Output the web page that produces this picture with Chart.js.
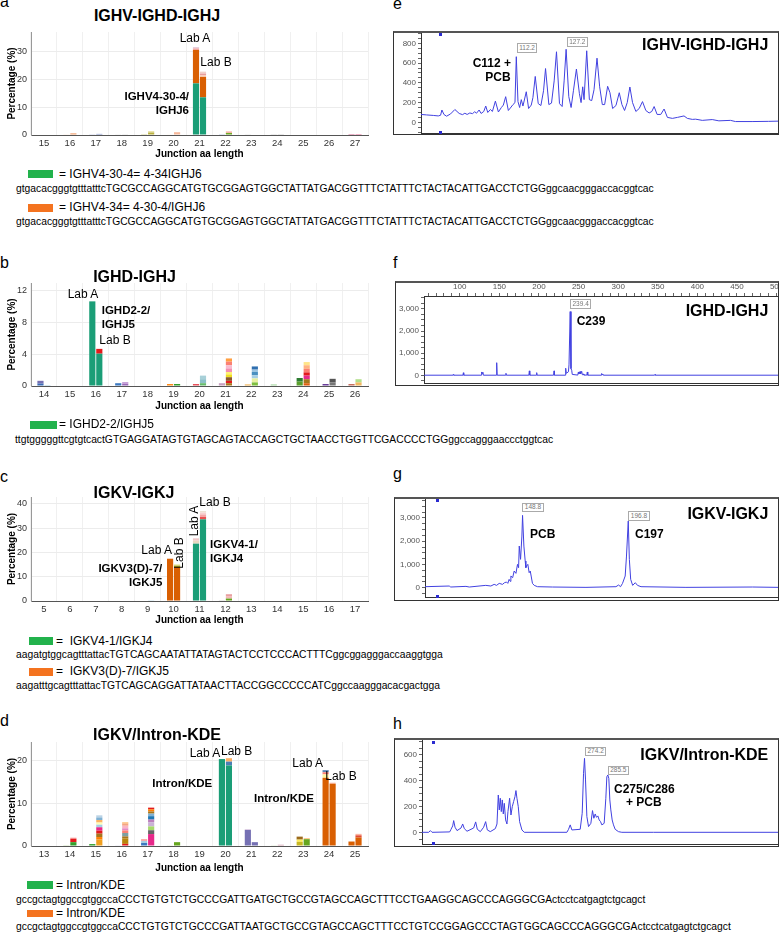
<!DOCTYPE html>
<html>
<head>
<meta charset="utf-8">
<script src="https://cdn.jsdelivr.net/npm/chart.js@4.4.1/dist/chart.umd.min.js"></script>
<style>
body{margin:0;width:780px;height:933px;position:relative;overflow:hidden;background:#fff;font-family:"Liberation Sans",Arial,Helvetica,sans-serif;color:#000}
.t{position:absolute;white-space:pre;line-height:1.2}
.lt{font-size:16px;line-height:16px}
.tl{font-size:16px;font-weight:bold}
.lab{font-size:12px}
.an{font-size:11.5px;font-weight:bold}
.rn{font-size:12px;font-weight:bold}
.lg{font-size:12px}
.sq{font-size:10.3px}
.pk{position:absolute;font-size:6.5px;line-height:6.5px;padding:0.5px 1.5px;border:1px solid #aaa;color:#777;background:#fff}
.sw{position:absolute}
.box{position:absolute;box-sizing:border-box;border:1px solid #333;border-top:2px solid #555}
.box canvas{position:absolute;left:0;top:0}
.mk{position:absolute;width:3px;height:3px;background:#2b2bd0}
canvas.c{position:absolute}
</style>
</head>
<body>

<canvas id="chA" class="c" width="372" height="132" style="left:0;top:28px"></canvas>
<canvas id="chB" class="c" width="372" height="133" style="left:0;top:279px"></canvas>
<canvas id="chC" class="c" width="372" height="133" style="left:0;top:493px"></canvas>
<canvas id="chD" class="c" width="372" height="136" style="left:0;top:738px"></canvas>

<div class="box" style="left:393px;top:31px;width:386px;height:104px"><canvas id="chE" width="384" height="101"></canvas></div>
<div class="box" style="left:395px;top:281px;width:384px;height:105px"><canvas id="chF" width="382" height="102"></canvas></div>
<div class="box" style="left:394px;top:497px;width:385px;height:104px"><canvas id="chG" width="383" height="101"></canvas></div>
<div class="box" style="left:394px;top:738px;width:385px;height:109px"><canvas id="chH" width="383" height="106"></canvas></div>

<script>
// ---------- junction length histograms (percentage of reads), Lab A / Lab B ----------
const G = '#1b9e77', O = '#d95f02';

const aCats = ['15','16','17','18','19','20','21','22','23','24','25','26','27'];
const aLabA = [[], [0.15], [0.1], [0.15], [0.3], [0.2], [18.5, 12.0, 0.5, 0.4], [0.25], [0.1], [0.1], [], [], [0.3]];
const aLabB = [[], [0.6], [0.4], [0.15], [0.9, 0.5], [1.0], [13.5, 7.3, 0.6, 0.6, 0.7], [0.7, 0.6], [], [0.25], [], [], [0.3]];

const bCats = ['14','15','16','17','18','19','20','21','22','23','24','25','26'];
const bLabA = [[0.3, 0.35], [], [10.6], [0.35], [], [0.25], [0.25], [0.35], [0.2], [0.2], [0.55, 0.45], [0.25], [0.25]];
const bLabB = [[0.12], [], [4.05, 0.6], [0.25, 0.25], [], [0.25], [0.35, 0.5, 0.45],
  [0.35, 0.3, 0.45, 0.35, 0.3, 0.45, 0.4, 0.45, 0.4], [0.45, 0.5, 0.4, 0.4, 0.3, 0.4], [],
  [0.35, 0.5, 0.45, 0.4, 0.45, 0.45, 0.4], [0.45, 0.45], [0.45, 0.4]];

const cCats = ['5','6','7','8','9','10','11','12','13','14','15','16','17'];
const cLabA = [[], [], [], [], [0.2], [17.4], [23.6, 1.2, 1.0], [0.1], [], [], [], [], []];
const cLabB = [[], [], [], [], [0.1], [14.0, 0.6, 0.5], [33.6, 1.0, 1.0, 0.8, 0.6], [1.0, 1.0, 0.8], [], [], [], [], []];

const dCats = ['13','14','15','16','17','18','19','20','21','22','23','24','25'];
const dLabA = [[], [0.15], [0.45], [0.1], [0.7, 0.5, 0.4], [0.1], [], [20.4], [3.75, 0.15], [0.1],
  [1.0, 0.5, 0.7], [16.0, 0.8, 0.5, 0.5], [1.05]];
const dLabB = [[], [0.9, 0.8, 0.25], [1.5, 0.6, 0.8, 0.7, 0.8, 0.6, 0.5, 0.6, 0.6, 0.5],
  [0.5, 1.3, 0.45, 0.8, 0.6, 0.5, 0.6, 0.5, 0.3], [2.8, 0.9, 0.9, 1.0, 0.6, 0.8, 0.6, 0.5, 0.5, 0.4],
  [0.9], [0.12], [18.9, 0.9, 0.8], [0.9], [0.3], [1.6, 0.2], [14.6, 0.25], [2.0, 0.5, 0.35]];

// segment colours (same shape as the value lists)
const aColA = [[], ['#f4b183'], ['#9fa8da'], ['#999'], ['#c5c56a'], ['#f8c0a8'], [G, O, '#f4a6a6', '#d9b5c9'], ['#6a8ac0'], ['#ccc'], ['#aaa'], [], [], ['#c2185b']];
const aColB = [[], ['#f0a070'], ['#7b8cc4'], ['#666'], ['#b8b040', '#e8e0a0'], ['#f6b89a'], [G, O, '#f8c9b0', '#e89c9c', '#f2d0c8'], ['#66a61e', '#f4b6a6'], [], ['#888'], [], [], ['#d81b60']];
const bColA = [['#3b6cb5', '#7570b3'], [], [G], ['#3b78c0'], [], ['#ff8c1a'], ['#e8505b'], ['#c9a0c0'], ['#f0b050'], ['#a6d8a0'], ['#5aa02c', '#2e7d32'], ['#6a3d9a'], ['#c87060']];
const bColB = [['#a6cee3'], [], [G, '#e31a1c'], ['#9a6bb8', '#c8a2d8'], [], ['#33a02c'], ['#66bb6a', '#8cc0c8', '#a8d0d8'],
  ['#a6761d', '#e31a1c', '#8b5a2b', '#f0e020', '#fff176', '#f48fb1', '#f8bbd0', '#fb8072', '#ff9f40'],
  ['#7fbf3f', '#e8f0a0', '#a6cee3', '#4a90c0', '#9ec5e0', '#3070b0'], [],
  ['#e06010', '#a6761d', '#e7298a', '#e31a1c', '#fb8072', '#ffb380', '#ffe58a'], ['#777', '#555'], ['#f0b860', '#b2df8a']];
const cColA = [[], [], [], [], ['#7570b3'], [O], [G, '#e8d8c0', '#f0c8c8'], ['#bbb'], [], [], [], [], []];
const cColB = [[], [], [], [], ['#a6cee3'], [O, '#a6a61e', '#e6e6a0'], [G, '#e85050', '#f4a6a6', '#f8d0d0', '#ece0d0'], ['#66a61e', '#f4b6b6', '#e8a0a0'], [], [], [], [], []];
const dColA = [[], ['#66a61e'], ['#33a02c'], ['#7570b3'], ['#3b78c0', '#a6cee3', '#fb9a99'], ['#66a61e'], [], [G], ['#7570b3', '#cab2d6'], ['#66a61e'],
  ['#c8b820', '#ffee58', '#9c6b1d'], [O, '#fff59d', '#fb8072', '#5b84b1'], [O]];
const dColB = [[], ['#33a02c', '#e31a1c', '#fb9a99'],
  ['#f0a020', '#ff7f00', '#a6761d', '#e31a1c', '#e7298a', '#a6cee3', '#ffffb3', '#fdb462', '#80b1d3', '#bcd4e6'],
  ['#e31a1c', '#b8860b', '#a6761d', '#7fa0a0', '#fb8072', '#e78ac3', '#fbb4c4', '#f4a582', '#fdb462'],
  ['#e7298a', '#666666', '#a6d96a', '#cab2d6', '#bc80bd', '#1f78b4', '#80b1d3', '#a6761d', '#ff7f00', '#e31a1c'],
  ['#66a61e'], ['#e31a1c'], [G, '#4a7fb5', '#fdae61'], ['#7570b3'], ['#d4a0b0'], ['#66a61e', '#fdb462'], [O, '#fbb4a0'], [O, '#e34a33', '#fbb4a0']];

// ---------- GeneScan traces: [fragment size (bp), signal] ----------
const eTrace = [[83.5,80],[85.2,75],[87.2,70],[88.7,65],[89.4,72],[89.8,125],[90.4,80],[91.2,62],[92.4,85],[93.7,130],
  [95.0,90],[96.0,78],[96.7,92],[97.4,80],[98.2,95],[99.0,88],[99.7,108],[100.2,92],[101.0,125],[101.6,90],
  [102.4,110],[103.0,165],[103.6,100],[104.4,130],[105.0,110],[105.9,215],[106.8,105],[107.7,150],[108.3,175],[109.0,260],
  [109.8,120],[110.4,145],[111.2,180],[111.8,200],[112.2,665],[112.7,210],[113.2,150],[113.7,230],[114.2,165],[115.2,310],
  [115.9,140],[116.7,175],[117.2,250],[117.9,465],[118.8,190],[119.6,170],[120.4,320],[121.0,545],[122.0,180],[122.8,195],
  [123.6,420],[124.3,715],[125.2,190],[126.0,160],[126.6,420],[127.2,740],[128.0,260],[128.7,150],[129.4,320],[130.3,540],
  [131.2,290],[131.7,200],[132.2,360],[132.6,230],[133.4,725],[134.2,230],[134.9,220],[135.6,330],[136.5,650],[137.3,360],
  [138.1,180],[138.8,180],[139.7,365],[140.4,300],[141.2,140],[142.2,170],[143.2,300],[144.0,180],[144.8,120],[145.6,200],
  [146.4,358],[147.2,200],[148.2,110],[149.2,140],[150.2,210],[151.2,120],[152.2,95],[153.0,110],[153.7,160],[154.6,80],
  [155.7,80],[156.7,135],[157.7,50],[159.2,40],[160.7,50],[162.7,65],[163.7,40],[165.2,30],[166.2,32],[168.2,20],
  [171.2,28],[173.2,15],[176.7,20],[178.2,8],[183.2,8],[188.2,10],[191,12]];

const fTrace = [[55,5],[91.3,5],[91.8,35],[92.3,5],[104,5],[104.5,115],[105,5],[127,5],[127.6,150],[128.4,70],
  [129.1,140],[129.8,5],[146,5],[146.6,570],[147.2,5],[157.8,5],[158.3,90],[158.8,5],[187.2,5],[187.8,200],
  [188.4,5],[196.6,5],[197.1,120],[197.6,5],[218.4,5],[219,200],[219.6,5],[233,5],[233.7,320],[234.5,90],
  [237.2,160],[237.9,470],[239.4,2880],[240.4,300],[241.3,230],[242,40],[249,10],[249.7,150],[250.5,60],[251.8,170],
  [252.6,60],[253.9,180],[254.8,20],[256,60],[256.7,10],[260.4,10],[261,150],[261.6,5],[278.6,5],[279.1,80],
  [279.8,30],[280.5,60],[281.2,5],[346,5],[346.5,35],[347,5],[503,5]];

const gTrace = [[104.5,43],[115.5,72],[116.2,29],[123.1,57],[124.6,29],[132.1,100],[134.4,72],[135.9,143],[137.0,100],[138.2,186],
  [139.7,143],[140.6,215],[141.5,244],[142.1,186],[142.7,358],[143.2,272],[143.5,502],[144.3,430],[145.0,717],[145.8,616],
  [146.5,1003],[147.0,860],[147.3,1791],[147.9,1218],[148.5,2221],[148.8,3110],[149.4,1791],[150.0,1146],[150.3,860],[150.6,931],
  [151.2,1003],[151.8,645],[152.3,717],[152.7,502],[153.3,186],[154.1,100],[155.6,43],[162.4,29],[177.6,14],[191.2,43],
  [192.4,115],[193.3,43],[194.2,186],[195.4,502],[196.0,1361],[196.8,2866],[197.3,1218],[197.9,358],[198.8,100],[200.0,215],
  [201.0,100],[202.6,43],[223.0,14],[253.3,29],[264.8,14]];

const hTrace = [[195.4,5],[198.65,5],[199.46,18],[200.27,5],[208.82,8],[209.47,28],[210.28,54],[210.76,95],[211.41,44],[212.38,18],
  [214.31,38],[215.12,69],[215.93,33],[217.22,13],[220.45,38],[221.42,85],[222.22,28],[223.68,10],[225.29,44],[226.26,87],
  [227.07,23],[228.52,10],[230.94,33],[231.75,69],[232.39,292],[232.88,177],[233.36,267],[233.84,164],[234.33,254],[234.81,146],
  [235.30,228],[235.94,100],[236.59,69],[237.07,164],[237.88,267],[238.53,138],[239.17,202],[239.82,241],[240.46,279],[240.95,326],
  [241.43,267],[242.08,202],[242.72,87],[243.85,23],[244.98,5],[265.64,5],[266.45,28],[267.26,62],[268.07,23],[272.1,28],
  [273.07,151],[273.72,459],[274.2,574],[274.68,408],[275.33,126],[276.14,49],[277.27,74],[278.07,172],[278.72,113],[279.37,146],
  [280.01,120],[280.66,131],[281.30,100],[281.95,87],[282.59,62],[283.72,74],[284.53,267],[285.02,433],[285.5,446],[285.98,420],
  [286.47,254],[286.95,177],[287.6,100],[288.24,62],[289.05,28],[290.66,10],[292.28,5],[307.6,5],[368.5,5]];

Chart.defaults.font.family = '"Liberation Sans", Arial, Helvetica, sans-serif';
Chart.defaults.color = '#333';

function fitTo(w, h) {
  return function (s) {
    if (w !== null) s.width = w;
    if (h !== null) s.height = h;
    s.paddingLeft = 0; s.paddingRight = 0; s.paddingTop = 0; s.paddingBottom = 0;
  };
}

// ticks at plain multiples of the step, whatever the axis limits are
function stepTicks(step) {
  return function (s) {
    const t = [];
    for (let v = Math.ceil(s.min / step) * step; v <= s.max + 1e-9; v += step) {
      t.push({ value: Math.round(v * 1000) / 1000 });
    }
    s.ticks = t;
  };
}

function layers(vals, cols, stack) {
  const n = Math.max(...vals.map(v => v.length));
  const out = [];
  for (let k = 0; k < n; k++) {
    out.push({
      data: vals.map(v => (v[k] === undefined ? null : v[k])),
      backgroundColor: cols.map(c => c[k] || 'rgba(0,0,0,0)'),
      stack: stack,
      borderWidth: 0,
      categoryPercentage: 0.54,
      barPercentage: 0.88
    });
  }
  return out;
}

function barChart(id, cats, labA, labB, colA, colB, yMax, step, xh) {
  new Chart(document.getElementById(id), {
    type: 'bar',
    data: { labels: cats, datasets: layers(labA, colA, 'A').concat(layers(labB, colB, 'B')) },
    options: {
      responsive: false, animation: false,
      layout: { padding: { top: 4, right: 4, left: 0, bottom: 0 } },
      plugins: { legend: { display: false }, tooltip: { enabled: false } },
      scales: {
        x: {
          stacked: true,
          grid: { color: '#f0f0f0', drawTicks: false },
          border: { color: '#555' },
          ticks: { font: { size: 9.5 }, color: '#333', padding: 3, autoSkip: false, maxRotation: 0 },
          title: { display: true, text: 'Junction aa length', color: '#000', font: { size: 10, weight: 'bold' }, padding: { top: 0, bottom: 0 } },
          afterFit: fitTo(null, xh)
        },
        y: {
          stacked: true, min: 0, max: yMax,
          grid: { color: '#ececec', drawTicks: false },
          border: { color: '#999' },
          ticks: { font: { size: 9 }, color: '#333', padding: 4, autoSkip: false },
          afterBuildTicks: stepTicks(step),
          title: { display: true, text: 'Percentage (%)', color: '#000', font: { size: 10, weight: 'bold' }, padding: { top: 6, bottom: 0 } },
          afterFit: fitTo(31, null)
        }
      }
    }
  });
}

barChart('chA', aCats, aLabA, aLabB, aColA, aColB, 36.9, 10, 25);
barChart('chB', bCats, bLabA, bLabB, bColA, bColB, 12.9, 4, 26);
barChart('chC', cCats, cLabA, cLabB, cColA, cColB, 42.8, 10, 25);
barChart('chD', dCats, dLabA, dLabB, dColA, dColB, 24.4, 10, 28);

function traceChart(id, pts, xr, yr, yStep, yMajor, yw, padBottom, topAxis) {
  const scales = {
    x: {
      type: 'linear', min: xr[0], max: xr[1],
      ticks: { display: false },
      grid: { drawOnChartArea: false, drawTicks: false },
      border: { color: '#333' },
      afterFit: fitTo(null, 0)
    },
    y: {
      min: yr[0], max: yr[1],
      ticks: {
        autoSkip: false, font: { size: 8 }, color: '#555', padding: 2,
        callback: v => (v >= 0 && v % yMajor === 0 ? v.toLocaleString('en-US') : '')
      },
      afterBuildTicks: stepTicks(yStep),
      grid: { drawOnChartArea: false, tickLength: 3, tickColor: '#666' },
      border: { color: '#333' },
      afterFit: fitTo(yw, null)
    }
  };
  if (topAxis) {
    scales.xt = {
      type: 'linear', position: 'top', min: xr[0], max: xr[1],
      ticks: {
        autoSkip: false, maxRotation: 0, font: { size: 8 }, color: '#555', padding: 1,
        callback: v => (v % 50 === 0 ? String(v) : '')
      },
      afterBuildTicks: stepTicks(10),
      grid: { drawOnChartArea: false, tickLength: 3, tickColor: '#666' },
      border: { color: '#333' },
      afterFit: fitTo(null, 13)
    };
  }
  new Chart(document.getElementById(id), {
    type: 'line',
    data: { datasets: [{ data: pts.map(p => ({ x: p[0], y: p[1] })), borderColor: '#4141e0', borderWidth: 1, pointRadius: 0, tension: 0 }] },
    options: {
      responsive: false, animation: false,
      layout: { padding: { top: 0, right: 0, left: 0, bottom: padBottom } },
      plugins: { legend: { display: false }, tooltip: { enabled: false } },
      scales: scales
    }
  });
}

traceChart('chE', eTrace, [83.5, 191], [-108, 905], 50, 200, 27, 1, false);
traceChart('chF', fTrace, [54.8, 501.8], [-348, 3584], 250, 1000, 28, 2, true);
traceChart('chG', gTrace, [104.5, 264.8], [-400, 3814], 250, 1000, 30, 3, false);
traceChart('chH', hTrace, [195.4, 368], [-85, 715], 50, 200, 27, 2, false);

// ---------- text ----------
const seqA = 'gtgacacgggtgtttatttcTGCGCCAGGCATGTGCGGAGTGGCTATTATGACGGTTTCTATTTCTACTACATTGACCTCTGGggcaacgggaccacggtcac';
const seqB = 'ttgtgggggttcgtgtcactGTGAGGATAGTGTAGCAGTACCAGCTGCTAACCTGGTTCGACCCCTGGggccagggaaccctggtcac';
const seqC1 = 'aagatgtggcagtttattacTGTCAGCAATATTATAGTACTCCTCCCACTTTCggcggagggaccaaggtgga';
const seqC2 = 'aagatttgcagtttattacTGTCAGCAGGATTATAACTTACCGGCCCCCATCggccaagggacacgactgga';
const seqD1 = 'gccgctagtggccgtggccaCCCTGTGTCTGCCCGATTGATGCTGCCGTAGCCAGCTTTCCTGAAGGCAGCCCAGGGCGActcctcatgagtctgcagct';
const seqD2 = 'gccgctagtggccgtggccaCCCTGTGTCTGCCCGATTAATGCTGCCGTAGCCAGCTTTCCTGTCCGGAGCCCTAGTGGCAGCCCAGGGCGActcctcatgagtctgcagct';

const letters = [['a', 0, -6], ['e', 393, -4.5], ['b', 0, 254.8], ['f', 393, 254.8], ['c', 0, 469.2], ['g', 393, 465.5], ['d', 0, 713.2], ['h', 393, 715.5]];
letters.forEach(l => {
  const d = document.createElement('div');
  d.className = 't lt'; d.textContent = l[0];
  d.style.left = l[1] + 'px'; d.style.top = l[2] + 'px';
  document.body.appendChild(d);
});

const sizes = { tl: 16, lab: 12, an: 11.5, rn: 12, lg: 12, sq: 10.3 };
const texts = [
  [157, 15.7, 'IGHV-IGHD-IGHJ', 'tl', 'c'],
  [195, 38, 'Lab A', 'lab', 'c'],
  [216, 62, 'Lab B', 'lab', 'c'],
  [189, 97, 'IGHV4-30-4/', 'an', 'r'],
  [189, 110.5, 'IGHJ6', 'an', 'r'],
  [59, 174, '= IGHV4-30-4= 4-34IGHJ6', 'lg', 'l'],
  [16, 188.7, seqA, 'sq', 'l'],
  [59, 207.5, '= IGHV4-34= 4-30-4/IGHJ6', 'lg', 'l'],
  [16, 222, seqA, 'sq', 'l'],

  [134.5, 276.7, 'IGHD-IGHJ', 'tl', 'c'],
  [83, 294.3, 'Lab A', 'lab', 'c'],
  [101.7, 311, 'IGHD2-2/', 'an', 'l'],
  [101.7, 325, 'IGHJ5', 'an', 'l'],
  [99.3, 340, 'Lab B', 'lab', 'l'],
  [59, 424.5, '= IGHD2-2/IGHJ5', 'lg', 'l'],
  [15, 440, seqB, 'sq', 'l'],

  [134, 492.7, 'IGKV-IGKJ', 'tl', 'c'],
  [156.7, 550, 'Lab A', 'lab', 'c'],
  [179, 553, 'Lab B', 'lab', 'v'],
  [194.3, 521, 'Lab A', 'lab', 'v'],
  [215, 501.7, 'Lab B', 'lab', 'c'],
  [210, 545, 'IGKV4-1/', 'an', 'l'],
  [210, 559.3, 'IGKJ4', 'an', 'l'],
  [162.3, 569.3, 'IGKV3(D)-7/', 'an', 'r'],
  [162.3, 582.7, 'IGKJ5', 'an', 'r'],
  [56, 641, '=  IGKV4-1/IGKJ4', 'lg', 'l'],
  [16, 655, seqC1, 'sq', 'l'],
  [56, 671.5, '=  IGKV3(D)-7/IGKJ5', 'lg', 'l'],
  [16, 686, seqC2, 'sq', 'l'],

  [157, 735, 'IGKV/Intron-KDE', 'tl', 'c'],
  [205, 752.7, 'Lab A', 'lab', 'c'],
  [236.7, 750.7, 'Lab B', 'lab', 'c'],
  [212.3, 784, 'Intron/KDE', 'an', 'r'],
  [307.7, 762.7, 'Lab A', 'lab', 'c'],
  [341, 776, 'Lab B', 'lab', 'c'],
  [314, 799.3, 'Intron/KDE', 'an', 'r'],
  [56, 885, '= Intron/KDE', 'lg', 'l'],
  [16, 900, seqD1, 'sq', 'l'],
  [56, 913.5, '= Intron/KDE', 'lg', 'l'],
  [16, 927.5, seqD2, 'sq', 'l'],

  [768.3, 45, 'IGHV-IGHD-IGHJ', 'tl', 'r'],
  [511, 63.3, 'C112 +', 'rn', 'r'],
  [510.7, 77.3, 'PCB', 'rn', 'r'],
  [768.3, 310.7, 'IGHD-IGHJ', 'tl', 'r'],
  [576.7, 320.7, 'C239', 'rn', 'l'],
  [768.3, 513.3, 'IGKV-IGKJ', 'tl', 'r'],
  [530, 534.3, 'PCB', 'rn', 'l'],
  [635, 534.3, 'C197', 'rn', 'l'],
  [768.3, 755, 'IGKV/Intron-KDE', 'tl', 'r'],
  [614, 789.3, 'C275/C286', 'rn', 'l'],
  [626, 801.7, '+ PCB', 'rn', 'l']
];
texts.forEach(t => {
  const d = document.createElement('div');
  d.className = 't ' + t[3];
  d.textContent = t[2];
  const fs = sizes[t[3]];
  d.style.left = t[0] + 'px';
  if (t[4] === 'v') {
    d.style.top = t[1] + 'px';
    d.style.transform = 'translate(-50%,-50%) rotate(-90deg)';
  } else {
    d.style.top = (t[1] - 0.6 * fs) + 'px';
    if (t[4] === 'c') d.style.transform = 'translateX(-50%)';
    if (t[4] === 'r') d.style.transform = 'translateX(-100%)';
  }
  document.body.appendChild(d);
});

// peak size call-outs
const peaks = [[516.7, 43.3, '112.2'], [566.7, 37.3, '127.2'], [570, 299.3, '239.4'], [522.3, 502.7, '148.8'],
  [628.3, 511, '196.8'], [585, 746.7, '274.2'], [607.7, 765.7, '285.5']];
peaks.forEach(p => {
  const d = document.createElement('div');
  d.className = 'pk'; d.textContent = p[2];
  d.style.left = p[0] + 'px'; d.style.top = p[1] + 'px';
  document.body.appendChild(d);
});

// legend swatches
const swatches = [[28, 170, 25, 8, '#22b24c'], [28, 204, 25, 7.5, '#f4731f'], [30, 420.5, 26.5, 8, '#22b24c'],
  [29, 637, 24, 8, '#22b24c'], [29, 667.5, 24, 8, '#f4731f'], [27, 881, 26, 8, '#22b24c'], [27, 909.5, 26, 7.5, '#f4731f']];
swatches.forEach(s => {
  const d = document.createElement('div');
  d.className = 'sw';
  d.style.cssText = 'left:' + s[0] + 'px;top:' + s[1] + 'px;width:' + s[2] + 'px;height:' + s[3] + 'px;background:' + s[4];
  document.body.appendChild(d);
});

// small scan markers on the trace frames
const marks = [[439, 33], [439, 131], [435.5, 499], [435.5, 595], [431.5, 741], [431.5, 842]];
marks.forEach(m => {
  const d = document.createElement('div');
  d.className = 'mk';
  d.style.left = m[0] + 'px'; d.style.top = m[1] + 'px';
  document.body.appendChild(d);
});
</script>
</body>
</html>
